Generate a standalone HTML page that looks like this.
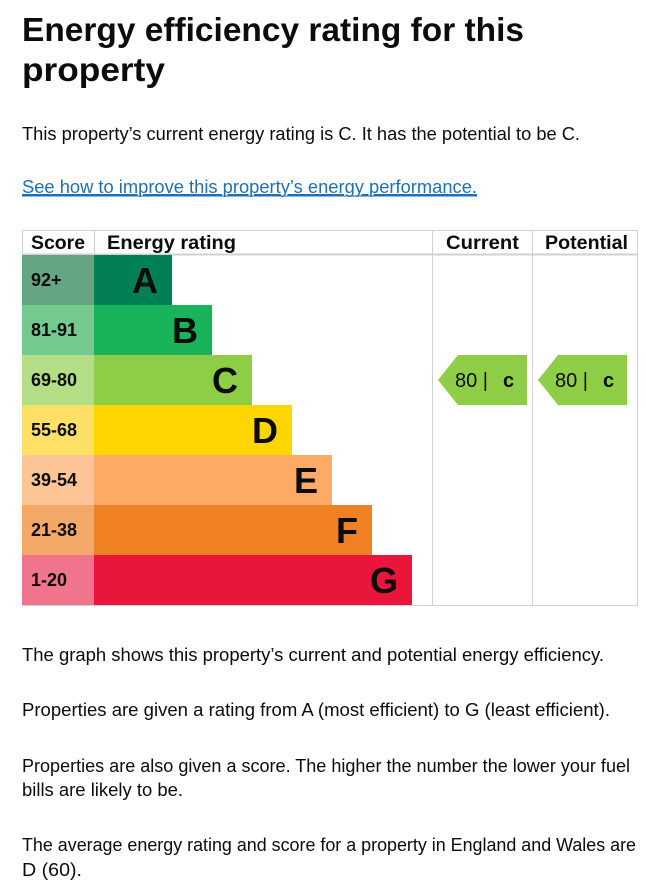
<!DOCTYPE html>
<html><head><meta charset="utf-8"><style>
html,body{margin:0;padding:0;background:#fff;width:646px;height:885px;overflow:hidden}
svg{display:block;font-family:"Liberation Sans",Arial,sans-serif}
</style></head><body>
<svg id="page" width="646" height="885" viewBox="0 0 646 885">
<text x="22" y="41" font-size="33" font-weight="bold" fill="#0b0c0c" textLength="502" lengthAdjust="spacingAndGlyphs">Energy efficiency rating for this</text>
<text x="22" y="81" font-size="33" font-weight="bold" fill="#0b0c0c" textLength="143" lengthAdjust="spacingAndGlyphs">property</text>
<text x="22" y="140" font-size="18" fill="#0b0c0c" textLength="558" lengthAdjust="spacingAndGlyphs">This property’s current energy rating is C. It has the potential to be C.</text>
<text x="22" y="193" font-size="18" fill="#1d70b8" text-decoration="underline" textLength="455" lengthAdjust="spacingAndGlyphs">See how to improve this property’s energy performance.</text>
<line x1="22" y1="196" x2="477" y2="196" stroke="#1d70b8" stroke-width="1"/>
<g id="chart"></g>
<text x="22" y="661" font-size="18" fill="#0b0c0c" textLength="582" lengthAdjust="spacingAndGlyphs">The graph shows this property’s current and potential energy efficiency.</text>
<text x="22" y="716" font-size="18" fill="#0b0c0c" textLength="588" lengthAdjust="spacingAndGlyphs">Properties are given a rating from A (most efficient) to G (least efficient).</text>
<text x="22" y="772" font-size="18" fill="#0b0c0c" textLength="608" lengthAdjust="spacingAndGlyphs">Properties are also given a score. The higher the number the lower your fuel</text>
<text x="22" y="796" font-size="18" fill="#0b0c0c" textLength="161" lengthAdjust="spacingAndGlyphs">bills are likely to be.</text>
<text x="22" y="851" font-size="18" fill="#0b0c0c" textLength="614" lengthAdjust="spacingAndGlyphs">The average energy rating and score for a property in England and Wales are</text>
<text x="22" y="876" font-size="18" fill="#0b0c0c" textLength="60" lengthAdjust="spacingAndGlyphs">D (60).</text>
</svg>
<script>
const bands = ["A","B","C","D","E","F","G"];
const scoreRanges = ["92+","81-91","69-80","55-68","39-54","21-38","1-20"];
const bandMaxScores = [100,91,80,68,54,38,20];
const barColors = ["#008054","#19b459","#8dce46","#ffd500","#fcaa65","#ef8023","#e9153b"];
const scoreColors = ["#64a584","#74c98f","#b3de86","#ffe066","#fdc596","#f4a867","#f0758c"];
const currentScore = 80;
const currentBand = "C";
const potentialScore = 80;
const potentialBand = "C";

const NS="http://www.w3.org/2000/svg";
const g=document.getElementById("chart");
const L=22, T=230, HDR=25, ROW=50, SCW=72, R=637, CUR=432, POT=532;
function rowY(i){return T+HDR+i*ROW;}
function barW(i){return 78+i*40;}
function mk(tag,attrs,txt){const e=document.createElementNS(NS,tag);for(const k in attrs)e.setAttribute(k,attrs[k]);if(txt!=null)e.textContent=txt;g.appendChild(e);return e;}
function bandIndex(score){for(let i=bands.length-1;i>=0;i--){if(score<=bandMaxScores[i])return i;}return 0;}

// grid
let e;
e=mk("rect",{x:L+0.5,y:T+0.5,width:R-L,height:HDR+ROW*7,fill:"none",stroke:"#d0d0d0"});


e=mk("line",{x1:L,y1:T+HDR-0.5,x2:R,y2:T+HDR-0.5,stroke:"#d0d0d0","stroke-width":2});


e=mk("line",{x1:CUR+0.5,y1:T,x2:CUR+0.5,y2:T+HDR+ROW*7,stroke:"#d0d0d0"});


e=mk("line",{x1:POT+0.5,y1:T,x2:POT+0.5,y2:T+HDR+ROW*7,stroke:"#d0d0d0"});


e=mk("line",{x1:L+SCW+0.5,y1:T,x2:L+SCW+0.5,y2:T+HDR,stroke:"#d0d0d0"});



const hdrs=[["Score",31,54,"score-header"],["Energy rating",107,129,"energy-rating-header"],["Current",446,73,"current-header"],["Potential",545,83,"potential-header"]];
hdrs.forEach(h=>{e=mk("text",{x:h[1],y:T+19,"font-size":19,"font-weight":"bold",fill:"#0b0c0c",textLength:h[2],lengthAdjust:"spacingAndGlyphs"},h[0]);

});

bands.forEach((b,i)=>{
  const y=rowY(i);
  e=mk("rect",{x:L,y:y,width:SCW,height:ROW,fill:scoreColors[i]});
  
  
  e=mk("text",{x:31,y:y+31,"font-size":18,"font-weight":"bold",fill:"#0b0c0c"},scoreRanges[i]);
  
  
  const w=barW(i);
  e=mk("rect",{x:L+SCW,y:y,width:w,height:ROW,fill:barColors[i]});
  
  
  e=mk("text",{x:L+SCW+w-14,y:y+38,"font-size":36,"font-weight":"bold",fill:"#0b0c0c","text-anchor":"end"},b);
  
  
});

function arrow(colX,score,band,name){
  const i=bandIndex(score), y=rowY(i), x0=colX+6, x1=colX+95, tip=20;
  e=mk("polygon",{points:`${x0},${y+ROW/2} ${x0+tip},${y} ${x1},${y} ${x1},${y+ROW} ${x0+tip},${y+ROW}`,fill:barColors[bands.indexOf(band)]});
  
  
  e=mk("text",{x:x0+17,y:y+32,"font-size":20,fill:"#0b0c0c"},score+" |");
  
  
  e=mk("text",{x:x0+65,y:y+32,"font-size":20,"font-weight":"bold",fill:"#0b0c0c"},band.toLowerCase());
  
  
}
arrow(CUR,currentScore,currentBand,"current-rating");
arrow(POT,potentialScore,potentialBand,"potential-rating");
</script>
</body></html>
